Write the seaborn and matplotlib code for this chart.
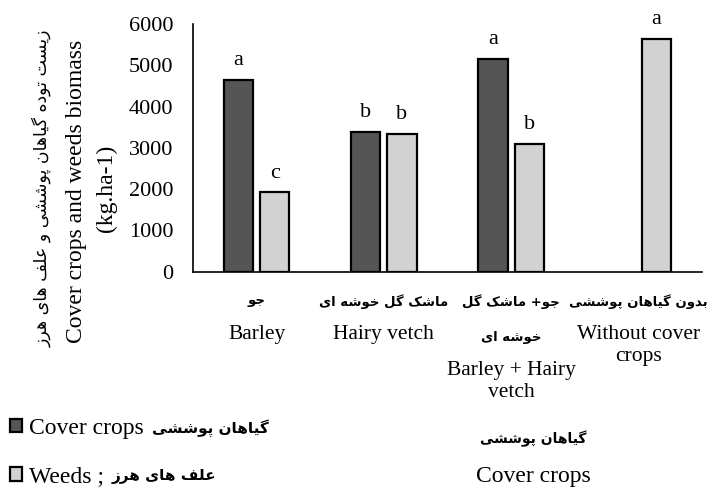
import numpy as np
import pandas as pd
import matplotlib
matplotlib.use("Agg")
import matplotlib.pyplot as plt
import seaborn as sns

# ---------------- data ----------------
categories = ["Barley", "Hairy vetch", "Barley + Hairy vetch", "Without cover crops"]
tick_labels_fa = ["جو", "ماشک گل خوشه ای", "جو+ ماشک گل\nخوشه ای", "بدون گیاهان پوششی"]
tick_labels_en = ["Barley", "Hairy vetch", "Barley + Hairy\nvetch", "Without cover\ncrops"]
cover_crops = [4650, 3380, 5150, np.nan]
weeds = [1920, 3340, 3090, 5640]
cover_letters = ["a", "b", "a", ""]
weeds_letters = ["c", "b", "b", "a"]
series = ["Cover crops", "Weeds"]
series_fa = ["گیاهان پوششی", "علف های هرز"]
y_ticks = [0, 1000, 2000, 3000, 4000, 5000, 6000]
ylabel_fa = "زیست توده گیاهان پوششی و علف های هرز"
ylabel_en = "Cover crops and weeds biomass"
ylabel_unit = "(kg.ha-1)"
xtitle_fa = "گیاهان پوششی"
xtitle_en = "Cover crops"

# ------------- Persian shaping (matplotlib has no complex text layout) -------------
FORMS = {
    "\u0627": ("\uFE8D", "\uFE8E", None, None),
    "\u0628": ("\uFE8F", "\uFE90", "\uFE91", "\uFE92"),
    "\u067E": ("\uFB56", "\uFB57", "\uFB58", "\uFB59"),
    "\u062A": ("\uFE95", "\uFE96", "\uFE97", "\uFE98"),
    "\u062C": ("\uFE9D", "\uFE9E", "\uFE9F", "\uFEA0"),
    "\u062E": ("\uFEA5", "\uFEA6", "\uFEA7", "\uFEA8"),
    "\u062F": ("\uFEA9", "\uFEAA", None, None),
    "\u0631": ("\uFEAD", "\uFEAE", None, None),
    "\u0632": ("\uFEAF", "\uFEB0", None, None),
    "\u0633": ("\uFEB1", "\uFEB2", "\uFEB3", "\uFEB4"),
    "\u0634": ("\uFEB5", "\uFEB6", "\uFEB7", "\uFEB8"),
    "\u0639": ("\uFEC9", "\uFECA", "\uFECB", "\uFECC"),
    "\u0641": ("\uFED1", "\uFED2", "\uFED3", "\uFED4"),
    "\u06A9": ("\uFB8E", "\uFB8F", "\uFB90", "\uFB91"),
    "\u0643": ("\uFED9", "\uFEDA", "\uFEDB", "\uFEDC"),
    "\u06AF": ("\uFB92", "\uFB93", "\uFB94", "\uFB95"),
    "\u0644": ("\uFEDD", "\uFEDE", "\uFEDF", "\uFEE0"),
    "\u0645": ("\uFEE1", "\uFEE2", "\uFEE3", "\uFEE4"),
    "\u0646": ("\uFEE5", "\uFEE6", "\uFEE7", "\uFEE8"),
    "\u0647": ("\uFEE9", "\uFEEA", "\uFEEB", "\uFEEC"),
    "\u0648": ("\uFEED", "\uFEEE", None, None),
    "\u06CC": ("\uFBFC", "\uFBFD", "\uFBFE", "\uFBFF"),
    "\u064A": ("\uFEF1", "\uFEF2", "\uFEF3", "\uFEF4"),
}


def shape_line(s):
    out = []
    n = len(s)
    for i, ch in enumerate(s):
        if ch not in FORMS:
            out.append(ch)
            continue
        iso, fin, ini, med = FORMS[ch]
        prev = s[i - 1] if i > 0 else None
        nxt = s[i + 1] if i < n - 1 else None
        jp = prev in FORMS and FORMS[prev][2] is not None
        jn = (nxt in FORMS) and ini is not None
        if jp and jn:
            out.append(med)
        elif jp:
            out.append(fin)
        elif jn:
            out.append(ini)
        else:
            out.append(iso)
    return "".join(reversed(out))


def fa(s):
    return "\n".join(shape_line(line) for line in s.split("\n"))


# ---------------- style ----------------
sns.set_theme(style="white")
plt.rcParams["font.family"] = ["Liberation Serif", "DejaVu Sans"]
plt.rcParams["text.color"] = "black"
plt.rcParams["axes.labelcolor"] = "black"
plt.rcParams["xtick.color"] = "black"
plt.rcParams["ytick.color"] = "black"
FA_FONT = ["DejaVu Sans"]

W_PX, H_PX = 726, 488
fig = plt.figure(figsize=(W_PX / 100, H_PX / 100), dpi=100)
x0, x1, y0, y1 = 193, 702, 24, 271.7
ax = fig.add_axes([x0 / W_PX, 1 - y1 / H_PX, (x1 - x0) / W_PX, (y1 - y0) / H_PX])

df = pd.DataFrame({
    "category": categories * 2,
    "series": [series[0]] * len(categories) + [series[1]] * len(categories),
    "value": list(cover_crops) + list(weeds),
}).dropna()

dark, light = "#555555", "#d2d2d2"
sns.barplot(data=df, x="category", y="value", hue="series", order=categories,
            hue_order=series, palette=[dark, light], saturation=1,
            width=0.567, gap=0.19, edgecolor="black", linewidth=1.6,
            errorbar=None, legend=False, ax=ax)

letters = [cover_letters, weeds_letters]
for cont, lab in zip(ax.containers, letters):
    labs = []
    for p in cont.patches:
        idx = int(round(p.get_x() + p.get_width() / 2))
        labs.append(lab[idx])
    ax.bar_label(cont, labels=labs, padding=7, fontsize=16)

ax.set_xlim(-0.5, len(categories) - 0.5)
ax.set_ylim(0, 6000)
ax.set_yticks(y_ticks)
ax.set_yticklabels([str(v) for v in y_ticks], fontsize=16)

# Persian category names as the tick labels
ax.set_xticks(range(len(categories)))
ax.set_xticklabels([fa(f) for f in tick_labels_fa], fontsize=9.5, fontweight="bold",
                   family=FA_FONT, linespacing=3.2)
ax.set_xticks(np.arange(-0.5, len(categories)), minor=True)
ax.tick_params(axis="x", which="major", length=0, pad=16)
ax.tick_params(axis="x", which="minor", length=10, width=1.2, direction="inout")
ax.tick_params(axis="y", length=12, width=1.2, direction="inout", pad=8)

# English category names underneath
for i, (f, e) in enumerate(zip(tick_labels_fa, tick_labels_en)):
    n_fa = f.count("\n") + 1
    off = 38.5 + (n_fa - 1) * 26
    ax.annotate(e, xy=(i, 0), xycoords=ax.get_xaxis_transform(), xytext=(0, -off),
                textcoords="offset points", ha="center", va="top", fontsize=15.5,
                linespacing=1.2)

ax.set_xlabel("")
ax.set_ylabel("")
for s in ["top", "right"]:
    ax.spines[s].set_visible(False)
for s in ["left", "bottom"]:
    ax.spines[s].set_color("black")
    ax.spines[s].set_linewidth(1.2)

# y-axis title (three rotated lines)
fig.text(42 / W_PX, 1 - 188 / H_PX, fa(ylabel_fa), rotation=90, ha="center", va="center",
         fontsize=12.5, family=FA_FONT)
fig.text(77 / W_PX, 1 - 191 / H_PX, ylabel_en, rotation=90, ha="center", va="center", fontsize=17)
fig.text(106 / W_PX, 1 - 188 / H_PX, ylabel_unit, rotation=90, ha="center", va="center", fontsize=17)

# x-axis title
fig.text(533 / W_PX, 1 - 439 / H_PX, fa(xtitle_fa), ha="center", va="center", fontsize=10,
         fontweight="bold", family=FA_FONT)
fig.text(533 / W_PX, 1 - 482 / H_PX, xtitle_en, ha="center", va="baseline", fontsize=17)

# legend
handles = list(ax.containers)
leg = fig.legend(handles, [series[0], series[1] + " ;"], loc="upper left",
                 bbox_to_anchor=(10 / W_PX, 1 - 418 / H_PX),
                 frameon=False, fontsize=17, handlelength=0.5, handleheight=0.5,
                 handletextpad=0.3, labelspacing=1.15, borderpad=0, borderaxespad=0)
fig.canvas.draw()
inv = fig.transFigure.inverted()
for t, name in zip(leg.get_texts(), series_fa):
    bb = t.get_window_extent()
    (fx, fy0), (_, fy1) = inv.transform([(bb.x1, bb.y0), (bb.x1, bb.y1)])
    fig.text(fx + 8 / W_PX, (fy0 + fy1) / 2, fa(name), ha="left", va="center",
             fontsize=11, fontweight="bold", family=FA_FONT)

fig.savefig("out.png", dpi=100)
